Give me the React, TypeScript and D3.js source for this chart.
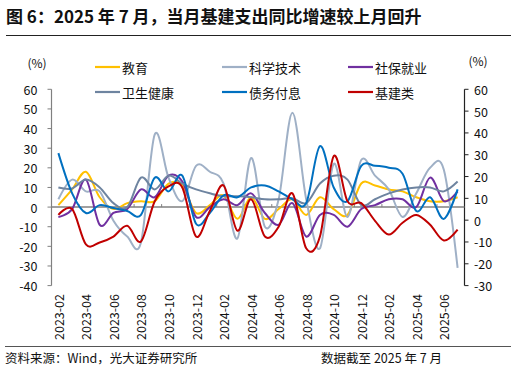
import React, { useEffect, useRef } from 'react';
import * as d3 from 'd3';

const months = [
  '2023-02', '2023-03', '2023-04', '2023-05', '2023-06', '2023-07', '2023-08', '2023-09', '2023-10', '2023-11', '2023-12',
  '2024-01', '2024-02', '2024-03', '2024-04', '2024-05', '2024-06', '2024-07', '2024-08', '2024-09', '2024-10', '2024-11', '2024-12',
  '2025-01', '2025-02', '2025-03', '2025-04', '2025-05', '2025-06', '2025-07',
];

const education = [1, 9, 18, 5, -1, 2, 3, 3, 12, 11, -3, 1, 6, -6, 5, -6, -1, 4, -4, 5, -1, -4, 12, 11, 9, 8, 5, 3, 3, 5];
const science = [4, 14, 8, 8, -7, -15, -18, 37, 15, 3, 21, 18, 12, -16, 25, -10, 4, 48, 4, -21, 22, -5, 24, 16, 9, -5, 7, 20, 19, -31];
const social = [-5, -1, 14, -9, -3, -1, 9, 5, 16, 13, -5, 0, 4, 1, 7, -3, -9, 2, -15, -4, -4, -10, -1, 1, 4, 4, 0, 15, 3, 8];
const health = [10, 9.5, 14, 10, 2, 0, 15, 9, 16, 12, 9, 7, 5.5, 5.5, 5, 4, 4, 4.5, 2, 12, 16, 14, 1, 4, 7, 9, 10, 10, 8, 13];
const debt = [27.5, 7, -3, 1, -0.5, -2, -4, 15, 8, 16, -8.5, -3, 6, 5, 10, 11, 8, 4, 2, 31, 10, 3, 21, 21, 20, 17, -2, 5, -6, 9];
const infra = [-4, -1, -19, -18, -15, -9.5, -17.5, 3, 10.5, 10, -15, -2, 11, -12, 4, -15, -10, 7, -21, -15, 26, 3, 2, -7, -14, -8, -4, -9, -17, -11.5];

const leftTicks = [60, 50, 40, 30, 20, 10, 0, -10, -20, -30, -40];
const rightTicks = [60, 50, 40, 30, 20, 10, 0, -10, -20, -30];

const series = [
  { name: '教育', values: education, color: '#FFC000' },
  { name: '科学技术', values: science, color: '#9FB0C6' },
  { name: '社保就业', values: social, color: '#7030A0' },
  { name: '卫生健康', values: health, color: '#6E84A0' },
  { name: '债务付息', values: debt, color: '#0070C0' },
  { name: '基建类', values: infra, color: '#C00000' },
];

const FONT = "'Noto Sans CJK SC', 'Noto Sans', sans-serif";

export default function App() {
  const svgRef = useRef<SVGSVGElement>(null);

  useEffect(() => {
    if (!svgRef.current) return;
    const svg = d3.select(svgRef.current);
    svg.selectAll('*').remove();

    const top = 89.3;
    const bottom = 285.6;
    const left = 51.5;
    const right = 464.5;

    const x = d3.scaleBand().domain(months).range([left, right]).padding(0);
    const cx = (m: string) => (x(m) || 0) + x.bandwidth() / 2;
    const yL = d3.scaleLinear().domain([-40, 60]).range([bottom, top]);
    const yR = d3.scaleLinear().domain([-30, 60]).range([bottom, top]);

    // title
    svg.append('text')
      .attr('x', 6).attr('y', 15)
      .attr('dominant-baseline', 'central')
      .attr('font-family', FONT).attr('font-size', 17).attr('font-weight', 'bold')
      .attr('fill', '#111')
      .text('图 6：2025 年 7 月，当月基建支出同比增速较上月回升');
    svg.append('line')
      .attr('x1', 6).attr('x2', 511).attr('y1', 35.5).attr('y2', 35.5)
      .attr('stroke', '#222').attr('stroke-width', 1.2);

    // unit labels
    svg.append('text').attr('x', 37).attr('y', 62).attr('text-anchor', 'middle')
      .attr('dominant-baseline', 'central').attr('font-family', FONT).attr('font-size', 12)
      .attr('fill', '#111').text('(%)');
    svg.append('text').attr('x', 478).attr('y', 60).attr('text-anchor', 'middle')
      .attr('dominant-baseline', 'central').attr('font-family', FONT).attr('font-size', 12)
      .attr('fill', '#111').text('(%)');

    // legend
    const legendX = [95, 222, 348];
    const legendY = [67, 92];
    series.forEach((s, i) => {
      const lx = legendX[i % 3];
      const ly = legendY[Math.floor(i / 3)];
      svg.append('line')
        .attr('x1', lx).attr('x2', lx + 25).attr('y1', ly).attr('y2', ly)
        .attr('stroke', s.color).attr('stroke-width', 2.2);
      svg.append('text')
        .attr('x', lx + 27).attr('y', ly)
        .attr('dominant-baseline', 'central')
        .attr('font-family', FONT).attr('font-size', 13).attr('fill', '#111')
        .text(s.name);
    });

    // left axis
    const gl = svg.append('g');
    gl.append('line').attr('x1', left).attr('x2', left).attr('y1', top).attr('y2', bottom)
      .attr('stroke', '#808080').attr('stroke-width', 1.2);
    leftTicks.forEach(t => {
      gl.append('line').attr('x1', left - 4).attr('x2', left).attr('y1', yL(t)).attr('y2', yL(t))
        .attr('stroke', '#808080').attr('stroke-width', 1);
      gl.append('text').attr('x', 37.5).attr('y', yL(t)).attr('text-anchor', 'end')
        .attr('dominant-baseline', 'central').attr('font-family', FONT).attr('font-size', 12.5)
        .attr('fill', '#111').text(t);
    });

    // right axis
    const gr = svg.append('g');
    gr.append('line').attr('x1', right).attr('x2', right).attr('y1', top).attr('y2', bottom)
      .attr('stroke', '#222').attr('stroke-width', 1.2);
    rightTicks.forEach(t => {
      gr.append('line').attr('x1', right).attr('x2', right + 4).attr('y1', yR(t)).attr('y2', yR(t))
        .attr('stroke', '#222').attr('stroke-width', 1);
      gr.append('text').attr('x', 474).attr('y', yR(t)).attr('text-anchor', 'start')
        .attr('dominant-baseline', 'central').attr('font-family', FONT).attr('font-size', 12.5)
        .attr('fill', '#111').text(t);
    });

    // category axis on zero line
    const y0 = yL(0);
    svg.append('line').attr('x1', left).attr('x2', right).attr('y1', y0).attr('y2', y0)
      .attr('stroke', '#808080').attr('stroke-width', 1.5);
    months.forEach((m, i) => {
      if (i % 2 === 0 && i > 0) {
        const tx = x(m) || 0;
        svg.append('line').attr('x1', tx).attr('x2', tx).attr('y1', y0).attr('y2', y0 - 3)
          .attr('stroke', '#808080').attr('stroke-width', 1);
      }
    });

    // x labels
    months.forEach((m, i) => {
      if (i % 2 !== 0) return;
      svg.append('text')
        .attr('transform', `translate(${cx(m)},${294}) rotate(-90)`)
        .attr('text-anchor', 'end')
        .attr('dominant-baseline', 'central')
        .attr('font-family', FONT).attr('font-size', 12.5).attr('fill', '#111')
        .text(m);
    });

    // lines
    const line = d3.line<number>()
      .x((_, i) => cx(months[i]))
      .y(d => yL(d))
      .curve(d3.curveCardinal.tension(0));
    series.forEach(s => {
      svg.append('path')
        .datum(s.values)
        .attr('d', line)
        .attr('fill', 'none')
        .attr('stroke', s.color)
        .attr('stroke-width', 2);
    });

    // footer
    svg.append('line')
      .attr('x1', 5).attr('x2', 511).attr('y1', 346.5).attr('y2', 346.5)
      .attr('stroke', '#555').attr('stroke-width', 1);
    svg.append('text').attr('x', 5).attr('y', 357)
      .attr('dominant-baseline', 'central').attr('font-family', FONT).attr('font-size', 12.5)
      .attr('fill', '#111').text('资料来源：Wind，光大证券研究所');
    svg.append('text').attr('x', 442).attr('y', 357).attr('text-anchor', 'end')
      .attr('dominant-baseline', 'central').attr('font-family', FONT).attr('font-size', 12.5)
      .attr('fill', '#111').text('数据截至 2025 年 7 月');
  }, []);

  return (
    <svg
      ref={svgRef}
      width={516}
      height={368}
      style={{ position: 'absolute', left: 0, top: 0, background: '#fff' }}
    />
  );
}
